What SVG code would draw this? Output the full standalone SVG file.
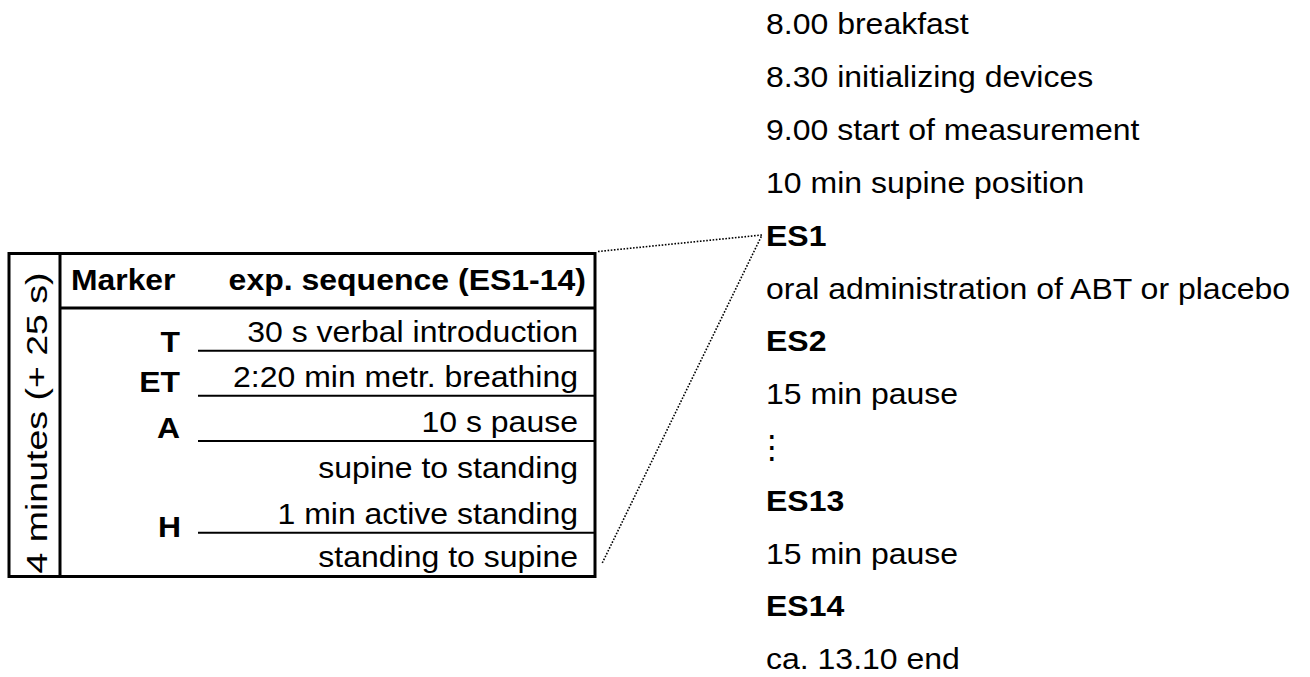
<svg xmlns="http://www.w3.org/2000/svg" width="1310" height="677" viewBox="0 0 1310 677">
<style>
text{font-family:"Liberation Sans",Arial,sans-serif;font-size:29.5px;fill:#000}
.b{font-weight:bold}
.e{text-anchor:end}
.frame{fill:none;stroke:#000;stroke-width:3}
.row{stroke:#000;stroke-width:2}
.dot{fill:none;stroke:#000;stroke-width:1.6;stroke-dasharray:1.6 1.6}
</style>
<rect width="1310" height="677" fill="#fff"/>
<g id="table">
<rect class="frame" x="9" y="253.5" width="586" height="323"/>
<line class="frame" x1="60" y1="253.5" x2="60" y2="576.5"/>
<line class="frame" x1="60" y1="308" x2="595" y2="308"/>
<line class="row" x1="198" y1="350.7" x2="595" y2="350.7"/>
<line class="row" x1="198" y1="395.7" x2="595" y2="395.7"/>
<line class="row" x1="198" y1="441" x2="595" y2="441"/>
<line class="row" x1="198" y1="532.7" x2="595" y2="532.7"/>
<text class="b" transform="translate(71 290) scale(1.08 1)">Marker</text>
<text class="b e" transform="translate(586 290) scale(1.085 1)">exp. sequence (ES1-14)</text>
<text class="e" transform="translate(578 342) scale(1.085 1)">30 s verbal introduction</text>
<text class="e" transform="translate(578 387) scale(1.085 1)">2:20 min metr. breathing</text>
<text class="e" transform="translate(578 432) scale(1.085 1)">10 s pause</text>
<text class="e" transform="translate(578 478) scale(1.085 1)">supine to standing</text>
<text class="e" transform="translate(578 523.5) scale(1.085 1)">1 min active standing</text>
<text class="e" transform="translate(578 567) scale(1.085 1)">standing to supine</text>
<text class="b e" transform="translate(180 351.5) scale(1.08 1)">T</text>
<text class="b e" transform="translate(180 391.7) scale(1.08 1)">ET</text>
<text class="b e" transform="translate(180 438.3) scale(1.08 1)">A</text>
<text class="b e" transform="translate(181 536.7) scale(1.08 1)">H</text>
</g>
<g id="duration">
<text text-anchor="middle" style="font-size:30px" transform="translate(47 423) rotate(-90) scale(1.25 1)">4 minutes (+ 25 s)</text>
</g>
<g id="connectors">
<polyline class="dot" points="598,251.5 762,235 602,563.5"/>
</g>
<g id="schedule">
<g id="s1"><text transform="translate(766 34) scale(1.085 1)">8.00 breakfast</text></g>
<g id="s2"><text transform="translate(766 86.9) scale(1.085 1)">8.30 initializing devices</text></g>
<g id="s3"><text transform="translate(766 139.8) scale(1.085 1)">9.00 start of measurement</text></g>
<g id="s4"><text transform="translate(766 192.7) scale(1.085 1)">10 min supine position</text></g>
<g id="es1"><text class="b" transform="translate(766 245.6) scale(1.085 1)">ES1</text></g>
<g id="s5"><text transform="translate(766 298.5) scale(1.085 1)">oral administration of ABT or placebo</text></g>
<g id="es2"><text class="b" transform="translate(766 351.4) scale(1.085 1)">ES2</text></g>
<g id="s6"><text transform="translate(766 404.3) scale(1.085 1)">15 min pause</text></g>
<g id="ellipsis"><text style="font-family:'DejaVu Sans',sans-serif;font-size:32px" x="756" y="457.5">⋮</text></g>
<g id="es13"><text class="b" transform="translate(766 511) scale(1.085 1)">ES13</text></g>
<g id="s7"><text transform="translate(766 564) scale(1.085 1)">15 min pause</text></g>
<g id="es14"><text class="b" transform="translate(766 615.9) scale(1.085 1)">ES14</text></g>
<g id="s8"><text transform="translate(766 668.8) scale(1.085 1)">ca. 13.10 end</text></g>
</g>
</svg>
